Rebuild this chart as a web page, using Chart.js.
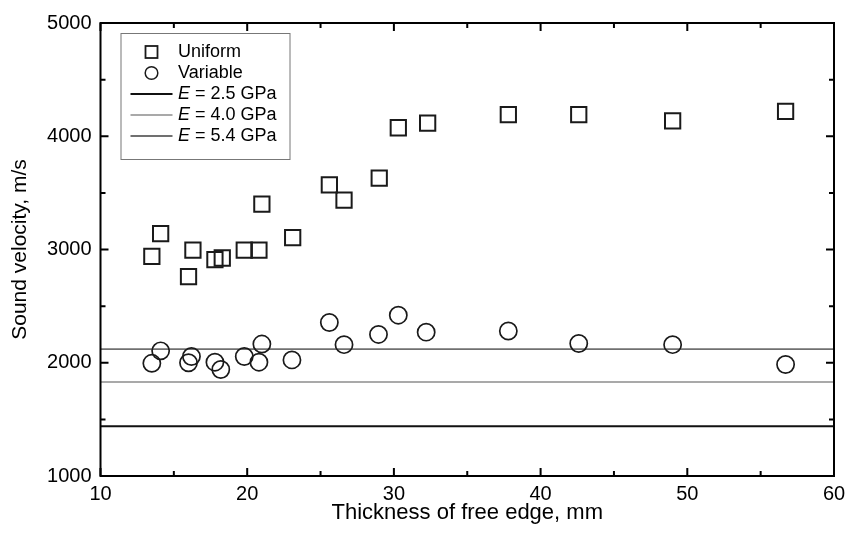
<!DOCTYPE html>
<html>
<head>
<meta charset="utf-8">
<script src="https://cdn.jsdelivr.net/npm/chart.js@4"></script>
<style>
  html, body { margin: 0; padding: 0; background: #fff; }
</style>
</head>
<body>
<canvas id="soundChart" width="849" height="537"></canvas>
<script>
// thickness of free edge (mm) and sound velocity (m/s)
const uniformX = [13.5, 14.1, 16.0, 16.3, 17.8, 18.3, 19.8, 20.8, 21.0, 23.1, 25.6, 26.6, 29.0, 30.3, 32.3, 37.8, 42.6, 49.0, 56.7];
const uniformY = [2940, 3140, 2760, 2995, 2910, 2925, 2995, 2995, 3400, 3105, 3570, 3435, 3630, 4075, 4115, 4190, 4190, 4135, 4220];

const variableX = [13.5, 14.1, 16.0, 16.2, 17.8, 18.2, 19.8, 20.8, 21.0, 23.05, 25.6, 26.6, 28.95, 30.3, 32.2, 37.8, 42.6, 49.0, 56.7];
const variableY = [1995, 2105, 2000, 2055, 2005, 1940, 2055, 2005, 2165, 2025, 2355, 2160, 2250, 2420, 2270, 2280, 2170, 2160, 1985];

// E levels: label, velocity
const modulusLabels = ['2.5', '4.0', '5.4'];
const modulusVelocity = [1440, 1830, 2120];
const modulusColors = ['#111111', '#a9a9a9', '#707070'];

const xRange = [10, 60];
const yRange = [1000, 5000];

const FONT = "'Liberation Sans', Arial, sans-serif";

function toPoints(xs, ys) {
  return xs.map((x, i) => ({ x: x, y: ys[i] }));
}

const datasets = [
  {
    label: 'Uniform',
    data: toPoints(uniformX, uniformY),
    pointStyle: 'rect',
    pointRadius: 10.8,
    pointBorderWidth: 2,
    pointBorderColor: '#1a1a1a',
    pointBackgroundColor: 'rgba(0,0,0,0)',
    showLine: false
  },
  {
    label: 'Variable',
    data: toPoints(variableX, variableY),
    pointStyle: 'circle',
    pointRadius: 8.6,
    pointBorderWidth: 1.7,
    pointBorderColor: '#1a1a1a',
    pointBackgroundColor: 'rgba(0,0,0,0)',
    showLine: false
  }
];

modulusLabels.forEach((lab, i) => {
  datasets.push({
    label: 'E = ' + lab + ' GPa',
    data: [{ x: xRange[0], y: modulusVelocity[i] }, { x: xRange[1], y: modulusVelocity[i] }],
    showLine: true,
    borderColor: modulusColors[i],
    borderWidth: i === 0 ? 2 : 1.8,
    pointRadius: 0
  });
});

// frame plus inward major/minor ticks on all four sides
const framePlugin = {
  id: 'frameTicks',
  afterDraw(chart) {
    const ctx = chart.ctx;
    const a = chart.chartArea;
    const xs = chart.scales.x, ys = chart.scales.y;
    ctx.save();
    ctx.strokeStyle = '#000';
    ctx.lineWidth = 2;
    ctx.strokeRect(a.left, a.top, a.right - a.left, a.bottom - a.top);
    ctx.beginPath();
    for (let v = xRange[0]; v <= xRange[1]; v += 5) {
      const len = v % 10 === 0 ? 8 : 5;
      const px = xs.getPixelForValue(v);
      ctx.moveTo(px, a.bottom); ctx.lineTo(px, a.bottom - len);
      ctx.moveTo(px, a.top); ctx.lineTo(px, a.top + len);
    }
    for (let v = yRange[0]; v <= yRange[1]; v += 500) {
      const len = v % 1000 === 0 ? 8 : 5;
      const py = ys.getPixelForValue(v);
      ctx.moveTo(a.left, py); ctx.lineTo(a.left + len, py);
      ctx.moveTo(a.right, py); ctx.lineTo(a.right - len, py);
    }
    ctx.stroke();
    ctx.restore();
  }
};

// boxed legend in the upper left, with italic E
const legendPlugin = {
  id: 'boxLegend',
  afterDraw(chart) {
    const ctx = chart.ctx;
    const a = chart.chartArea;
    const bx = a.left + 20, by = a.top + 10, bw = 169, bh = 126;
    ctx.save();
    ctx.fillStyle = '#fff';
    ctx.fillRect(bx, by, bw, bh);
    ctx.strokeStyle = '#777';
    ctx.lineWidth = 1;
    ctx.strokeRect(bx + 0.5, by + 0.5, bw, bh);

    const symX = bx + 31, textX = bx + 57.5;
    ctx.textBaseline = 'middle';
    ctx.fillStyle = '#000';
    chart.data.datasets.forEach((ds, i) => {
      const ry = by + 19 + i * 21;
      ctx.strokeStyle = ds.pointBorderColor || ds.borderColor;
      if (i === 0) {
        ctx.lineWidth = 1.8;
        ctx.strokeRect(symX - 6, ry - 6, 12, 12);
      } else if (i === 1) {
        ctx.lineWidth = 1.5;
        ctx.beginPath();
        ctx.arc(symX, ry, 6.3, 0, Math.PI * 2);
        ctx.stroke();
      } else {
        ctx.strokeStyle = ds.borderColor;
        ctx.lineWidth = 1.8;
        ctx.beginPath();
        ctx.moveTo(bx + 10, ry); ctx.lineTo(bx + 52, ry);
        ctx.stroke();
      }
      if (i < 2) {
        ctx.font = '18px ' + FONT;
        ctx.fillText(ds.label, textX, ry);
      } else {
        ctx.font = 'italic 18px ' + FONT;
        ctx.fillText('E', textX, ry);
        const w = ctx.measureText('E').width;
        ctx.font = '18px ' + FONT;
        ctx.fillText(ds.label.slice(1), textX + w, ry);
      }
    });
    ctx.restore();
  }
};

new Chart(document.getElementById('soundChart').getContext('2d'), {
  type: 'scatter',
  data: { datasets: datasets },
  options: {
    responsive: false,
    animation: false,
    layout: { padding: { left: 0, right: 15, top: 23, bottom: 0 } },
    plugins: {
      legend: { display: false },
      tooltip: { enabled: false }
    },
    scales: {
      x: {
        type: 'linear',
        min: xRange[0],
        max: xRange[1],
        afterFit: (scale) => {
          scale.height = 61;
          scale.paddingLeft = 0;
          scale.paddingRight = 0;
        },
        grid: { display: false, drawTicks: false },
        border: { display: false },
        ticks: {
          stepSize: 10,
          padding: 6,
          color: '#000',
          font: { family: FONT, size: 20 },
          callback: (v) => String(v)
        },
        title: {
          display: true,
          text: 'Thickness of free edge, mm',
          color: '#000',
          font: { family: FONT, size: 22 },
          padding: { top: 0, bottom: 11 }
        }
      },
      y: {
        type: 'linear',
        min: yRange[0],
        max: yRange[1],
        afterFit: (scale) => { scale.width = 100.5; },
        grid: { display: false, drawTicks: false },
        border: { display: false },
        ticks: {
          stepSize: 1000,
          padding: 9,
          color: '#000',
          font: { family: FONT, size: 20 },
          callback: (v) => String(v)
        },
        title: {
          display: true,
          text: 'Sound velocity, m/s',
          color: '#000',
          font: { family: FONT, size: 21 },
          padding: { top: 8, bottom: 0 }
        }
      }
    }
  },
  plugins: [framePlugin, legendPlugin]
});
</script>
</body>
</html>
